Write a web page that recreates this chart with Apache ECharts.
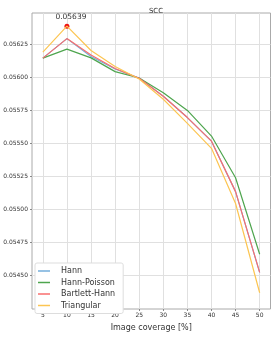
<!DOCTYPE html>
<html><head><meta charset="utf-8">
<script src="https://cdn.jsdelivr.net/npm/echarts@6/dist/echarts.min.js"></script>
<style>html,body{margin:0;padding:0;background:#fff}#c{width:273px;height:337px}</style>
</head><body><div id="c"></div>
<script>
const coverage = [5, 10, 15, 20, 25, 30, 35, 40, 45, 50];
const hann = [0.056148, 0.056296, 0.056160, 0.056066, 0.055997, 0.055859, 0.055698, 0.055519, 0.055137, 0.054525];
const hannPoisson = [0.056148, 0.056216, 0.056150, 0.056046, 0.055998, 0.055886, 0.055752, 0.055558, 0.055242, 0.054663];
const bartlettHann = [0.056148, 0.056296, 0.056172, 0.056070, 0.055995, 0.055859, 0.055698, 0.055519, 0.055137, 0.054525];
const triangular = [0.056194, 0.056390, 0.056206, 0.056085, 0.055990, 0.055837, 0.055654, 0.055465, 0.055047, 0.054371];
const xTicks = [5, 10, 15, 20, 25, 30, 35, 40, 45, 50];
const yTicks = [0.05450, 0.05475, 0.05500, 0.05525, 0.05550, 0.05575, 0.05600, 0.05625];
const peak = { x: 10, y: 0.05639, label: '0.05639' };

const names = ['Hann', 'Hann-Poisson', 'Bartlett-Hann', 'Triangular'];
const colors = ['#74aedb', '#4ea54e', '#f86e6e', '#fcc552'];
const values = [hann, hannPoisson, bartlettHann, triangular];

const chart = echarts.init(document.getElementById('c'));
const series = names.map((n, i) => ({
  name: n, type: 'line', symbol: 'none',
  data: coverage.map((x, j) => [x, values[i][j]]),
  lineStyle: { width: 1.2, color: colors[i] }, itemStyle: { color: colors[i] },
  z: 2 + i
}));
series[3].markPoint = {
  symbol: 'circle', symbolSize: 5, itemStyle: { color: '#ee1111' },
  data: [{ coord: [peak.x, peak.y], value: peak.label }],
  label: { show: true, position: 'top', distance: 3, offset: [4, 0], formatter: peak.label, fontSize: 7.5, color: '#333', fontFamily: 'DejaVu Sans' }
};
chart.setOption({
  animation: false,
  title: { text: 'SCC', left: 151, top: 3, textAlign: 'center', textStyle: { fontSize: 7, fontWeight: 'normal', color: '#333', fontFamily: 'DejaVu Sans' } },
  grid: { left: 32, top: 13, right: 2.5, bottom: 21, show: true, borderColor: '#aaa', borderWidth: 1 },
  legend: {
    left: 35, top: 263, orient: 'vertical', itemWidth: 12, itemHeight: 1.5, itemGap: 3.5, icon: 'rect',
    padding: [4, 8, 4, 3], borderColor: '#ddd', borderWidth: 1, borderRadius: 2, backgroundColor: '#fff',
    textStyle: { fontSize: 8, color: '#333', fontFamily: 'DejaVu Sans', padding: [0, 0, 0, 6] },
    data: names
  },
  xAxis: {
    type: 'value', min: 2.75, max: 52.25,
    name: 'Image coverage [%]', nameLocation: 'middle', nameGap: 15,
    nameTextStyle: { fontSize: 8, color: '#333', fontFamily: 'DejaVu Sans' },
    axisLine: { show: false },
    axisTick: { show: true, customValues: xTicks, length: 2, lineStyle: { color: '#888' } },
    axisLabel: { customValues: xTicks, fontSize: 6, color: '#333', margin: 3.5, fontFamily: 'DejaVu Sans' },
    splitLine: { show: true, lineStyle: { color: '#e0e0e0', width: 1 } }
  },
  yAxis: {
    type: 'value', min: 0.054248, max: 0.05649,
    axisLine: { show: false },
    axisTick: { show: true, customValues: yTicks, length: 2, lineStyle: { color: '#888' } },
    axisLabel: { customValues: yTicks, fontSize: 6, color: '#333', margin: 4, fontFamily: 'DejaVu Sans', formatter: v => v.toFixed(5) },
    splitLine: { show: true, lineStyle: { color: '#e0e0e0', width: 1 } }
  },
  series: series
});
</script></body></html>
